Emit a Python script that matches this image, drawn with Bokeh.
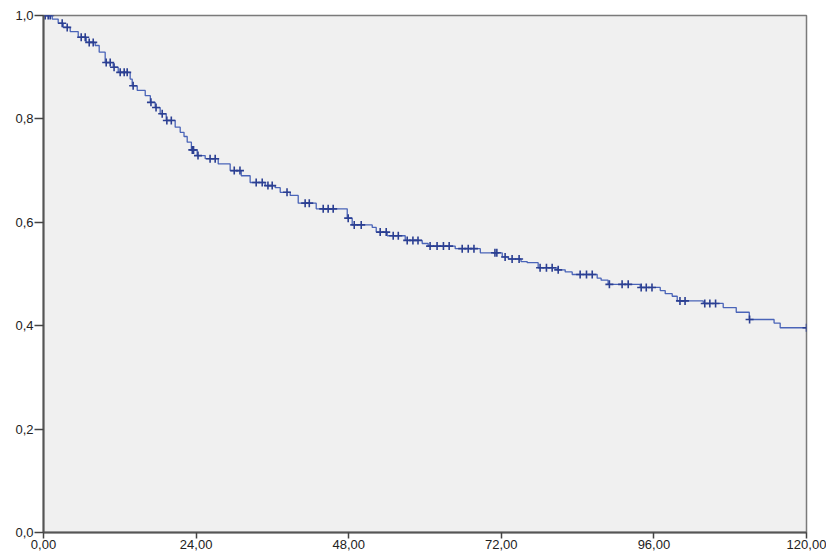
import numpy as np
from bokeh.plotting import figure
from bokeh.models import Range1d, FixedTicker, CustomJSTickFormatter, ColumnDataSource
from bokeh.embed import file_html
from bokeh.resources import INLINE

# Kaplan-Meier step points (time in months, cumulative survival)
event_times = [0, 1.37, 2.31, 3.10, 4.20, 5.46, 6.72, 8.13, 8.76, 9.70,
               10.96, 11.75, 13.63, 13.95, 14.74, 16.0, 16.8, 17.57, 18.35, 19.3,
               20.71, 21.5, 22.1, 22.6, 23.26, 24.17, 25.43, 27.48, 29.36, 31.1,
               32.5, 34.87, 36.44, 37.23, 38.8, 40.06, 42.89, 47.77, 48.55, 51.7,
               52.33, 54.06, 56.89, 59.56, 60.5, 64.75, 68.7, 72.15, 73.1, 75.1,
               76.07, 77.8, 80.8, 82.05, 83.15, 87.08, 87.7, 88.8, 93.85, 97.0,
               97.78, 98.88, 99.67, 103.76, 106.9, 108.95, 111.0, 114.9, 115.86]
survival = [1.0, 0.993, 0.985, 0.977, 0.969, 0.958, 0.948, 0.942, 0.929, 0.909,
            0.900, 0.890, 0.877, 0.864, 0.855, 0.845, 0.832, 0.822, 0.810, 0.797,
            0.784, 0.774, 0.766, 0.755, 0.740, 0.729, 0.723, 0.713, 0.700, 0.690,
            0.677, 0.671, 0.667, 0.658, 0.652, 0.637, 0.626, 0.608, 0.595, 0.590,
            0.581, 0.574, 0.565, 0.559, 0.554, 0.549, 0.541, 0.533, 0.529, 0.524,
            0.522, 0.512, 0.508, 0.504, 0.499, 0.492, 0.488, 0.480, 0.474, 0.468,
            0.462, 0.457, 0.448, 0.443, 0.435, 0.426, 0.412, 0.405, 0.396]
end_time = 120.0

# censored observations (time in months)
censor_times = [0.27, 0.74, 1.05, 2.94, 3.73, 5.93, 6.56, 7.19, 7.82, 9.86,
                10.49, 11.1, 12.06, 12.69, 13.16, 14.1, 16.9, 17.7, 18.67, 19.4,
                20.1, 23.4, 23.6, 24.3, 26.2, 27.0, 30.0, 30.9, 33.45, 34.4,
                35.3, 35.97, 38.3, 41.15, 41.8, 43.99, 44.77, 45.56, 47.92, 48.87,
                49.97, 52.95, 53.9, 55.0, 55.8, 57.2, 58.1, 58.9, 60.8, 61.9,
                62.9, 63.8, 65.85, 66.8, 67.7, 71.0, 71.3, 72.6, 73.7, 74.8,
                78.1, 79.1, 80.0, 80.95, 84.4, 85.4, 86.3, 89.0, 91.0, 91.96,
                94.0, 94.8, 95.7, 100.1, 100.9, 104.0, 104.8, 105.7, 111.05, 120.0]

x_ticks = [0, 24, 48, 72, 96, 120]
y_ticks = [0.0, 0.2, 0.4, 0.6, 0.8, 1.0]

assert len(event_times) == len(survival)

step_x = list(event_times) + [end_time]
step_y = list(survival) + [survival[-1]]

et = np.array(event_times)
sv = np.array(survival)
idx = np.searchsorted(et, np.array(censor_times), side="right") - 1
censor_surv = sv[idx]

p = figure(width=826, height=552, output_backend="svg", toolbar_location=None,
           x_range=Range1d(0, 120), y_range=Range1d(0, 1.0),
           min_border_left=43, min_border_right=20, min_border_top=15, min_border_bottom=20)

p.background_fill_color = "#F0F0F0"
p.border_fill_color = "white"
p.outline_line_color = "#7A7A7A"
p.outline_line_width = 1.5
p.xgrid.visible = False
p.ygrid.visible = False

p.step(step_x, step_y, mode="after", line_color="#4A64B8", line_width=1.3)
p.scatter(x=censor_times, y=list(censor_surv), marker="cross", size=8,
          line_color="#2B3F92", line_width=1.6)

for ax in (p.xaxis[0], p.yaxis[0]):
    ax.axis_line_color = "#555555"
    ax.axis_line_width = 2
    ax.major_tick_line_color = "#444444"
    ax.major_tick_line_width = 1.5
    ax.minor_tick_line_color = None
    ax.major_tick_in = 0
    ax.major_label_text_font = "Liberation Sans"
    ax.major_label_text_font_size = "13px"
    ax.major_label_text_color = "#222222"

p.xaxis.ticker = FixedTicker(ticks=x_ticks)
p.yaxis.ticker = FixedTicker(ticks=y_ticks)
p.xaxis.formatter = CustomJSTickFormatter(code="return tick.toFixed(2).replace('.', ',');")
p.yaxis.formatter = CustomJSTickFormatter(code="return tick.toFixed(1).replace('.', ',');")
p.xaxis.major_tick_out = 6
p.xaxis.major_label_standoff = 1
p.yaxis.major_tick_out = 9
p.yaxis.major_label_standoff = 1

open("out.html", "w").write(file_html(p, INLINE))
